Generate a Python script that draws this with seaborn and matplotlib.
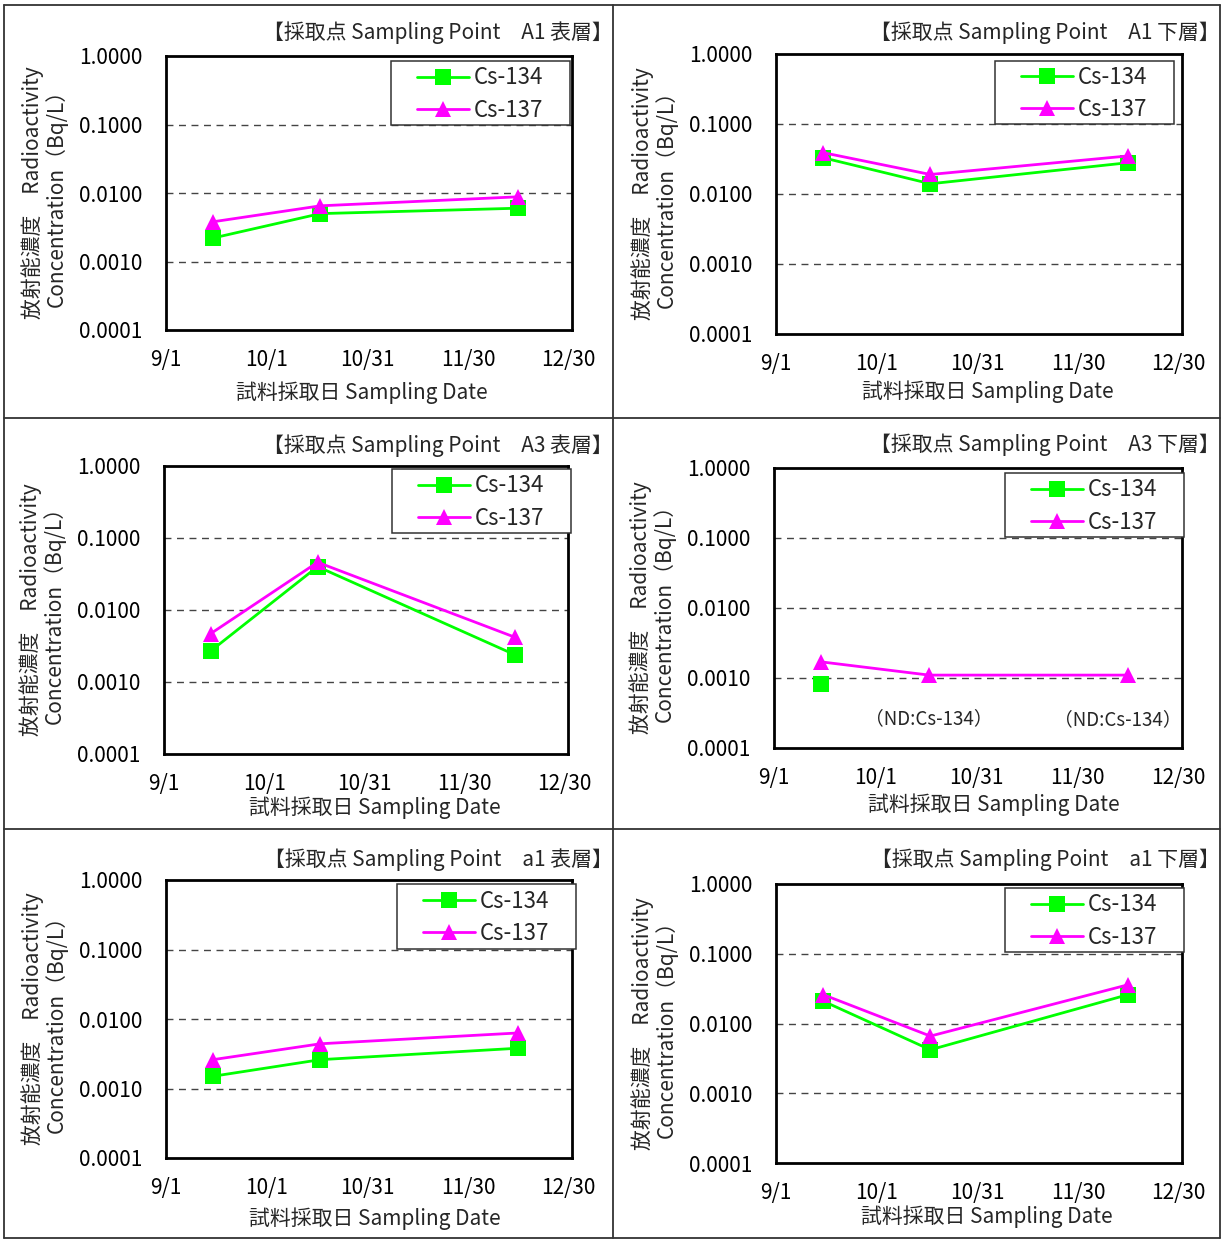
import numpy as np
import pandas as pd
import matplotlib
matplotlib.use("Agg")
import matplotlib.pyplot as plt
from matplotlib.lines import Line2D
from matplotlib.patches import Rectangle
import seaborn as sns

sns.set_theme(style="white")
plt.rcParams["font.family"] = ["Noto Sans CJK JP", "DejaVu Sans"]

# ---------------- data ----------------
sampling_dates = ["2011-09-15", "2011-10-17", "2011-12-15"]
nuclides = ["Cs-134", "Cs-137"]

panel_titles = [
    "【採取点 Sampling Point\u3000A1 表層】",
    "【採取点 Sampling Point\u3000A1 下層】",
    "【採取点 Sampling Point\u3000A3 表層】",
    "【採取点 Sampling Point\u3000A3 下層】",
    "【採取点 Sampling Point\u3000a1 表層】",
    "【採取点 Sampling Point\u3000a1 下層】",
]

a1_surface_cs134 = [0.0022, 0.0050, 0.0060]
a1_surface_cs137 = [0.0038, 0.0065, 0.0088]
a1_lower_cs134 = [0.033, 0.014, 0.028]
a1_lower_cs137 = [0.039, 0.019, 0.035]
a3_surface_cs134 = [0.0027, 0.040, 0.0024]
a3_surface_cs137 = [0.0047, 0.046, 0.0042]
a3_lower_cs134 = [0.00082, np.nan, np.nan]
a3_lower_cs137 = [0.0017, 0.0011, 0.0011]
a1s_surface_cs134 = [0.0015, 0.0026, 0.0038]
a1s_surface_cs137 = [0.0026, 0.0044, 0.0063]
a1s_lower_cs134 = [0.021, 0.0042, 0.026]
a1s_lower_cs137 = [0.026, 0.0066, 0.036]

series = [
    (a1_surface_cs134, a1_surface_cs137),
    (a1_lower_cs134, a1_lower_cs137),
    (a3_surface_cs134, a3_surface_cs137),
    (a3_lower_cs134, a3_lower_cs137),
    (a1s_surface_cs134, a1s_surface_cs137),
    (a1s_lower_cs134, a1s_lower_cs137),
]

x_tick_dates = ["2011-09-01", "2011-10-01", "2011-10-31", "2011-11-30", "2011-12-30"]
x_tick_labels = ["9/1", "10/1", "10/31", "11/30", "12/30"]
y_ticks = [0.0001, 0.001, 0.01, 0.1, 1.0]
y_tick_labels = ["0.0001", "0.0010", "0.0100", "0.1000", "1.0000"]

nd_note = "（ND:Cs-134）"
nd_dates = ["2011-10-17", "2011-12-12"]
nd_levels = [0.00026, 0.00025]

y_label = "放射能濃度\u3000Radioactivity\nConcentration（Bq/L）"
x_label = "試料採取日 Sampling Date"

colors = {"Cs-134": "#00FF00", "Cs-137": "#FF00FF"}
markers = {"Cs-134": "s", "Cs-137": "^"}

# ---------------- layout (pixels) ----------------
W, H = 1223, 1240
boxes = [  # axes: left, right, top, bottom
    (166, 572, 56, 330),
    (776, 1182, 54, 334),
    (164, 568, 466, 754),
    (774, 1182, 468, 748),
    (166, 572, 880, 1158),
    (776, 1182, 884, 1163),
]
legend_boxes = [  # left, right, top, bottom
    (391, 570, 61, 125),
    (995, 1174, 61, 124),
    (392, 571, 469, 533),
    (1005, 1184, 473, 537),
    (397, 576, 884, 949),
    (1005, 1184, 888, 952),
]
title_pos = [(613, 33), (1220, 33), (613, 446), (1220, 445), (613, 860), (1220, 860)]
xlabel_pos = [(362, 391), (988, 390), (375, 806), (994, 803), (375, 1217), (987, 1215)]

fig = plt.figure(figsize=(W / 100, H / 100), dpi=100)

frame_kw = dict(color="#333333", linewidth=1.3, transform=fig.transFigure)
for xs, ys in [
    ([4 / W, 1220 / W], [1 - 5 / H, 1 - 5 / H]),
    ([4 / W, 1220 / W], [1 - 1238 / H, 1 - 1238 / H]),
    ([4 / W, 4 / W], [1 - 5 / H, 1 - 1238 / H]),
    ([1220 / W, 1220 / W], [1 - 5 / H, 1 - 1238 / H]),
    ([613 / W, 613 / W], [1 - 5 / H, 1 - 1238 / H]),
    ([4 / W, 1220 / W], [1 - 418 / H, 1 - 418 / H]),
    ([4 / W, 1220 / W], [1 - 829 / H, 1 - 829 / H]),
]:
    fig.add_artist(Line2D(xs, ys, **frame_kw))

dates = pd.to_datetime(sampling_dates)
x0 = pd.Timestamp("2011-09-01")
x1 = x0 + pd.Timedelta(days=121)

FS = 15
for i, ((l, r, t, b), (c134, c137), title, (tx, ty), (lx0, lx1, ly0, ly1), (xlx, xly)) in enumerate(
        zip(boxes, series, panel_titles, title_pos, legend_boxes, xlabel_pos)):
    aw, ah = r - l, b - t
    ax = fig.add_axes([l / W, 1 - b / H, aw / W, ah / H])
    df = pd.DataFrame({
        "date": list(dates) * 2,
        "value": list(c134) + list(c137),
        "nuclide": ["Cs-134"] * 3 + ["Cs-137"] * 3,
    }).dropna()
    sns.lineplot(data=df, x="date", y="value", hue="nuclide", style="nuclide",
                 markers=markers, dashes=False, palette=colors,
                 hue_order=nuclides, style_order=nuclides,
                 linewidth=2, markersize=11, markeredgewidth=0, ax=ax)
    ax.set_yscale("log")
    ax.set_ylim(0.0001, 1.0)
    ax.set_xlim(x0, x1)
    ax.set_yticks(y_ticks)
    ax.set_yticklabels(y_tick_labels, fontsize=FS)
    ax.yaxis.set_minor_locator(matplotlib.ticker.NullLocator())
    ax.set_xticks(pd.to_datetime(x_tick_dates))
    ax.set_xticklabels(x_tick_labels, fontsize=FS)
    ax.tick_params(axis="y", length=0, pad=17, labelcolor="black")
    ax.tick_params(axis="x", direction="in", length=7, width=1.2, pad=14,
                   color="#444444", labelcolor="black")
    for y in [0.001, 0.01, 0.1]:
        ax.axhline(y, color="#444444", linewidth=1, linestyle=(0, (5, 4)), zorder=0)
    for s in ax.spines.values():
        s.set_visible(True)
        s.set_color("black")
        s.set_linewidth(2)
    ax.set_xlabel(x_label, fontsize=FS)
    ax.xaxis.set_label_coords((xlx - l) / aw, (b - (xly - 10)) / ah)
    ax.set_ylabel(y_label, fontsize=FS, labelpad=8, linespacing=1.05)
    fig.text(tx / W, 1 - ty / H, title, fontsize=FS, ha="right", va="center")

    # legend frame + entries
    rect = Rectangle(((lx0 - l) / aw, (b - ly1) / ah), (lx1 - lx0) / aw, (ly1 - ly0) / ah,
                     transform=ax.transAxes, facecolor="white", edgecolor="#333333",
                     linewidth=1.1, zorder=4.5, clip_on=False)
    ax.add_patch(rect)
    handles, labels = ax.get_legend_handles_labels()
    leg = ax.legend(handles, labels, loc="center left",
                    bbox_to_anchor=((lx0 + 26 - l) / aw, (b - (ly0 + ly1) / 2 - 1) / ah),
                    borderaxespad=0, borderpad=0, frameon=False, fontsize=16,
                    handlelength=2.35, handletextpad=0.22, labelspacing=0.42)
    leg.set_zorder(5)

    if i == 3:
        for d, yv in zip(nd_dates, nd_levels):
            ax.text(pd.Timestamp(d), yv, nd_note, fontsize=13.5, ha="center", va="center")

fig.savefig("out.png", dpi=100)
